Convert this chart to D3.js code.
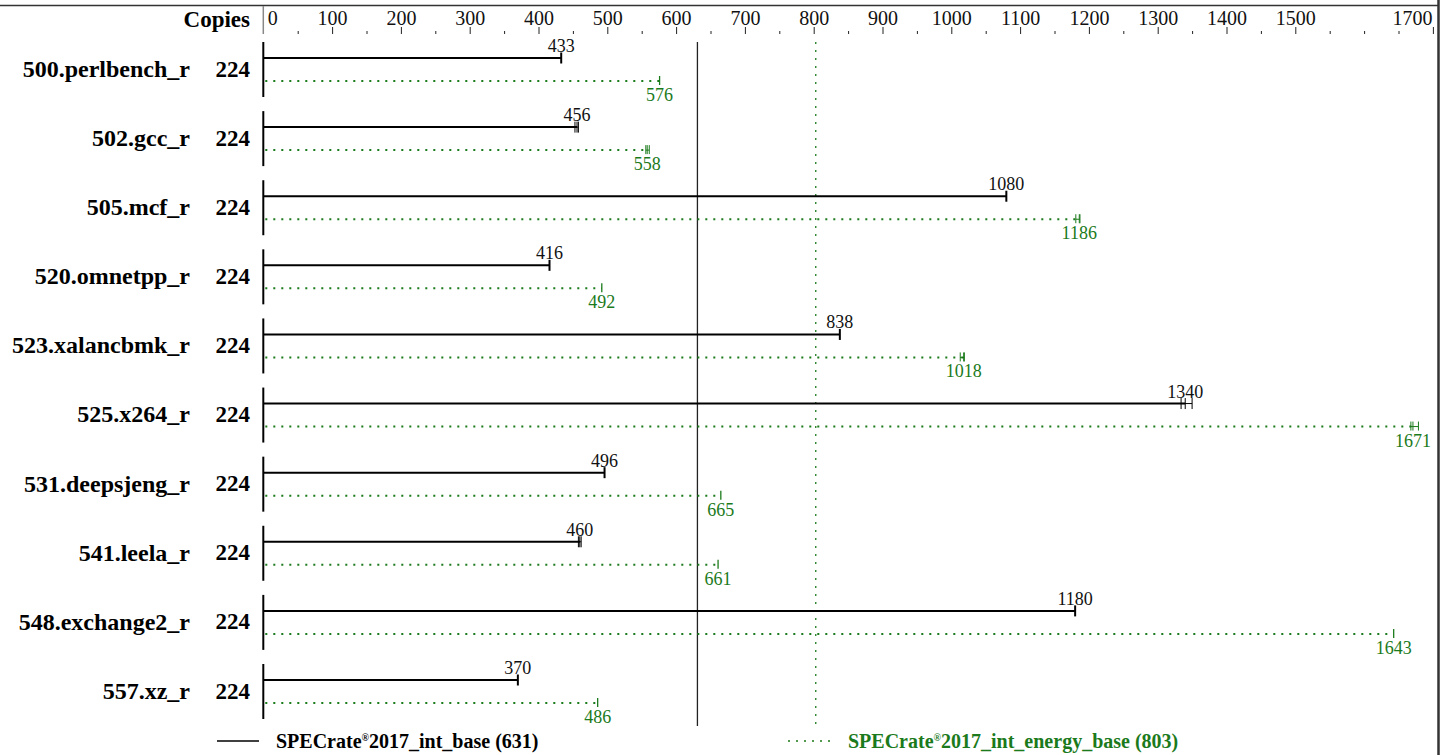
<!DOCTYPE html>
<html>
<head>
<meta charset="utf-8">
<script src="https://cdn.jsdelivr.net/npm/d3@7"></script>
<style>
  body { margin: 0; background: #fff; }
  svg { display: block; font-family: "Liberation Serif", "Times New Roman", serif; }
</style>
</head>
<body>
<div id="chart"></div>
<script>
// Data
const benchmarks = ["500.perlbench_r", "502.gcc_r", "505.mcf_r", "520.omnetpp_r", "523.xalancbmk_r",
                    "525.x264_r", "531.deepsjeng_r", "541.leela_r", "548.exchange2_r", "557.xz_r"];
const copies = [224, 224, 224, 224, 224, 224, 224, 224, 224, 224];
const baseScores = [433, 456, 1080, 416, 838, 1340, 496, 460, 1180, 370];
const baseRuns = [[433], [453, 456, 458], [1080], [416], [838], [1334, 1340, 1350], [496], [458, 460, 462], [1180], [370]];
const energyScores = [576, 558, 1186, 492, 1018, 1671, 665, 661, 1643, 486];
const energyRuns = [[576], [556, 558, 561], [1181, 1186, 1187], [492], [1013, 1018, 1019], [1668, 1671, 1679], [665], [661], [1643], [486]];
const majorTicks = [0, 100, 200, 300, 400, 500, 600, 700, 800, 900, 1000, 1100, 1200, 1300, 1400, 1500, 1700];
const minorTicks = [50, 150, 250, 350, 450, 550, 650, 750, 850, 950, 1050, 1150, 1250, 1350, 1450, 1550, 1600, 1650];
const baseMean = 631, energyMean = 803;
const baseName = "2017_int_base", energyName = "2017_int_energy_base";

const W = 1447, H = 755;
const green = "#1b7a1b";

const svg = d3.select("#chart").append("svg")
    .attr("width", W)
    .attr("height", H);

const x = d3.scaleLinear().domain([0, 1700]).range([263.3, 1432.9]);
const y = d3.scalePoint().domain(benchmarks).range([69.5, 691.5]);

// frame
svg.append("line").attr("x1", 0).attr("x2", 1438).attr("y1", 5.5).attr("y2", 5.5)
    .attr("stroke", "#333").attr("stroke-width", 1.5);
svg.append("line").attr("x1", 1438.5).attr("x2", 1438.5).attr("y1", 0).attr("y2", H)
    .attr("stroke", "#333").attr("stroke-width", 2.5);
svg.append("line").attr("x1", x(0)).attr("x2", x(0)).attr("y1", 6).attr("y2", 34)
    .attr("stroke", "#888").attr("stroke-width", 1.5);

// Axis on top
const axMajor = svg.append("g")
    .attr("transform", "translate(0,34)")
    .call(d3.axisTop(x).tickValues(majorTicks).tickSize(7).tickPadding(2).tickFormat(d3.format("d")));
const axMinor = svg.append("g")
    .attr("transform", "translate(0,34)")
    .call(d3.axisTop(x).tickValues(minorTicks).tickSize(3).tickFormat(""));
[axMajor, axMinor].forEach(g => {
    g.select(".domain").remove();
    g.selectAll(".tick line").attr("stroke", "#222");
});
axMajor.selectAll(".tick text")
    .attr("font-family", "Liberation Serif")
    .attr("font-size", 20)
    .attr("fill", "#111");
axMajor.selectAll(".tick").filter(d => d === 0).select("line").remove();
axMajor.selectAll(".tick").filter(d => d === 0).select("text")
    .attr("text-anchor", "start").attr("x", 4);
axMajor.selectAll(".tick").filter(d => d === 1700).select("text")
    .attr("text-anchor", "end").attr("x", -1);

svg.append("text")
    .attr("x", 250).attr("y", 27)
    .attr("text-anchor", "end")
    .attr("font-weight", "bold")
    .attr("font-size", 23)
    .text("Copies");

// mean lines
svg.append("line")
    .attr("x1", x(baseMean)).attr("x2", x(baseMean))
    .attr("y1", 42).attr("y2", 726)
    .attr("stroke", "#222").attr("stroke-width", 1.3);
svg.append("line")
    .attr("x1", x(energyMean)).attr("x2", x(energyMean))
    .attr("y1", 42).attr("y2", 726)
    .attr("stroke", green).attr("stroke-width", 1.3)
    .attr("stroke-dasharray", "2,6");

// rows
const rows = svg.selectAll("g.row")
    .data(benchmarks.map((b, i) => ({
        name: b, copies: copies[i],
        base: baseScores[i], baseRuns: baseRuns[i],
        energy: energyScores[i], energyRuns: energyRuns[i]
    })))
    .join("g")
    .attr("class", "row")
    .attr("transform", d => `translate(0,${y(d.name)})`);

rows.append("text")
    .attr("x", 190).attr("y", -1).attr("dy", "0.35em")
    .attr("text-anchor", "end")
    .attr("font-weight", "bold").attr("font-size", 24)
    .text(d => d.name);
rows.append("text")
    .attr("x", 250).attr("y", -1).attr("dy", "0.35em")
    .attr("text-anchor", "end")
    .attr("font-weight", "bold").attr("font-size", 23)
    .text(d => d.copies);

rows.append("line")
    .attr("x1", x(0)).attr("x2", x(0))
    .attr("y1", -27.5).attr("y2", 27.5)
    .attr("stroke", "#000").attr("stroke-width", 2);

// base bar
const by = -11.5, ey = 11.5;
rows.append("line")
    .attr("x1", x(0)).attr("x2", d => x(d.base))
    .attr("y1", by).attr("y2", by)
    .attr("stroke", "#000").attr("stroke-width", 2);
rows.append("line")
    .attr("x1", d => x(d3.min(d.baseRuns))).attr("x2", d => x(d3.max(d.baseRuns)))
    .attr("y1", by).attr("y2", by)
    .attr("stroke", "#000").attr("stroke-width", 1);
rows.each(function(d) {
    const g = d3.select(this);
    const single = d.baseRuns.length === 1;
    g.selectAll("line.brun").data(d.baseRuns).join("line")
        .attr("class", "brun")
        .attr("x1", v => x(v)).attr("x2", v => x(v))
        .attr("y1", by - 5.5).attr("y2", by + 5.5)
        .attr("stroke", "#000").attr("stroke-width", single ? 2 : 1);
    const esingle = d.energyRuns.length === 1;
    g.selectAll("line.erun").data(d.energyRuns).join("line")
        .attr("class", "erun")
        .attr("x1", v => x(v)).attr("x2", v => x(v))
        .attr("y1", ey - 5).attr("y2", ey + 4)
        .attr("stroke", green).attr("stroke-width", esingle ? 1.3 : 1);
});
rows.append("text")
    .attr("x", d => x(d.base)).attr("y", by - 6)
    .attr("text-anchor", "middle")
    .attr("font-size", 18).attr("fill", "#111")
    .text(d => d.base);

// energy bar
rows.append("line")
    .attr("x1", x(0) + 2).attr("x2", d => x(d.energy))
    .attr("y1", ey).attr("y2", ey)
    .attr("stroke", green).attr("stroke-width", 2)
    .attr("stroke-dasharray", "2,6");
rows.append("line")
    .attr("x1", d => x(d3.min(d.energyRuns))).attr("x2", d => x(d3.max(d.energyRuns)))
    .attr("y1", ey).attr("y2", ey)
    .attr("stroke", green).attr("stroke-width", 1);
rows.append("text")
    .attr("x", d => x(d.energy)).attr("y", ey + 20)
    .attr("text-anchor", "middle")
    .attr("font-size", 18).attr("fill", green)
    .text(d => d.energy);

// legend
const legend = [
    { x1: 217, x2: 259, tx: 276, color: "#000", dash: null, name: baseName, mean: baseMean },
    { x1: 788, x2: 832, tx: 848, color: green, dash: "2,6", name: energyName, mean: energyMean }
];
legend.forEach(l => {
    svg.append("line")
        .attr("x1", l.x1).attr("x2", l.x2)
        .attr("y1", 741).attr("y2", 741)
        .attr("stroke", l.color).attr("stroke-width", l.dash ? 1.5 : 1.3)
        .attr("stroke-dasharray", l.dash);
    const t = svg.append("text")
        .attr("x", l.tx).attr("y", 748)
        .attr("font-weight", "bold").attr("font-size", 20)
        .attr("fill", l.color);
    t.append("tspan").text("SPECrate");
    t.append("tspan").attr("font-size", 10).attr("dy", -7).text("®");
    t.append("tspan").attr("dy", 7).text(`${l.name} (${l.mean})`);
});
</script>
</body>
</html>
